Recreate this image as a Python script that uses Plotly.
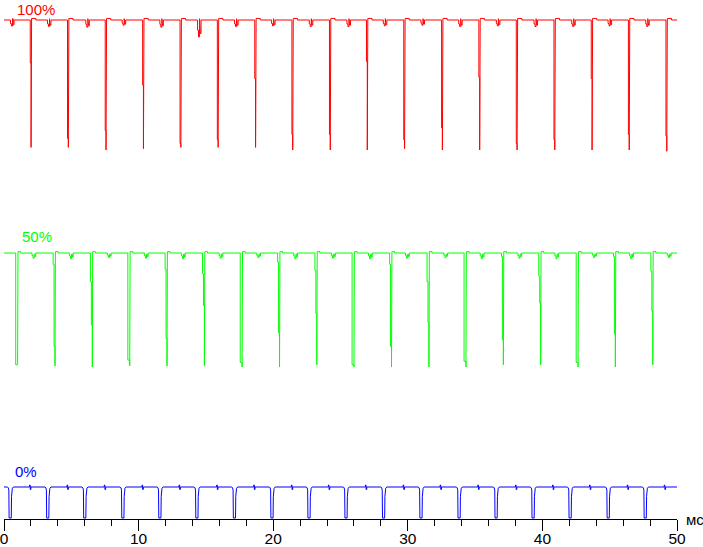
import plotly.graph_objects as go

# ---------------- data (time in ms) ----------------
# red trace (100%)
red_spike_t = [2.01, 4.78, 7.58, 10.36, 13.14, 15.91, 18.69, 21.45, 24.24,
               26.99, 29.76, 32.57, 35.34, 38.12, 40.92, 43.69, 46.45, 49.24]
red_spike_first = [0.33, 0.91, 0.85, 0.50, 0.95, 0.92, 0.45, 0.88, 0.88,
                   0.32, 0.92, 0.83, 0.44, 0.95, 0.92, 0.45, 0.88, 0.89]
red_spike_bottom = [0.98, 0.98, 1.00, 0.99, 0.98, 0.98, 0.98, 1.00, 1.00,
                    1.00, 0.99, 1.00, 1.00, 1.00, 1.00, 1.00, 1.00, 1.01]
red_glitch_t = [0.6, 3.35, 6.2, 8.9, 11.7, 14.5, 17.25, 20.0, 22.8,
                25.6, 28.3, 31.1, 33.9, 36.7, 39.5, 42.3, 45.0, 47.8]
red_glitch_d = [0.046, 0.05, 0.055, 0.04, 0.055, 0.13, 0.05, 0.045, 0.05,
                0.05, 0.045, 0.04, 0.05, 0.045, 0.05, 0.05, 0.045, 0.05]

# green trace (50%)
green_spike_t = [0.94, 3.72, 6.49, 9.27, 12.04, 14.82, 17.62, 20.40, 23.17,
                 25.93, 28.72, 31.50, 34.25, 37.03, 39.80, 42.58, 45.35, 48.13]
green_spike_first = [0.98, 0.10, 0.25, 0.94, 0.14, 0.18, 0.96, 0.08, 0.15,
                     0.98, 0.10, 0.25, 0.95, 0.03, 0.20, 0.96, 0.03, 0.16]
green_spike_second = [0.98, 0.82, 0.63, 0.94, 0.75, 0.46, 0.96, 0.70, 0.53,
                      0.98, 0.82, 0.61, 0.95, 0.76, 0.44, 0.96, 0.71, 0.51]
green_spike_bottom = [0.98, 0.99, 1.00, 0.99, 0.99, 0.99, 1.00, 1.00, 0.98,
                      1.00, 1.00, 1.00, 1.00, 0.98, 0.98, 1.00, 1.00, 0.98]
green_glitch_t = [2.2, 4.98, 7.8, 10.55, 13.3, 16.1, 18.9, 21.65, 24.45,
                  27.2, 29.95, 32.8, 35.5, 38.3, 41.05, 43.85, 46.6, 49.4]
green_glitch_d = [0.045, 0.05, 0.04, 0.045, 0.05, 0.045, 0.04, 0.05, 0.045,
                  0.05, 0.045, 0.04, 0.05, 0.045, 0.05, 0.04, 0.05, 0.04]

# blue trace (0%)
blue_dip_t = [0.48, 3.27, 6.02, 8.85, 11.6, 14.35, 17.14, 19.93, 22.68,
              25.43, 28.22, 31.0, 33.83, 36.58, 39.33, 42.08, 44.91, 47.66]
blue_blip_t = [1.9, 4.68, 7.45, 10.25, 13.0, 15.8, 18.55, 21.35, 24.1,
               26.85, 29.65, 32.4, 35.2, 38.0, 40.75, 43.5, 46.3, 49.05]

labels = ["100%", "50%", "0%"]
x_start, x_end = 0.0, 50.0
x_ticks = [0, 10, 20, 30, 40, 50]
x_unit = "мс"

# ---------------- display layout (vertical placement of each trace) -------
RED_BASE, RED_SWING = 499, 130
GREEN_BASE, GREEN_SWING = 266, 114
BLUE_BASE, BLUE_SWING = 32, 31


def red_spike(p1, b):
    return [(-0.06, 0), (-0.06, p1), (0, p1), (0, b), (0.04, -0.012),
            (0.35, -0.012), (0.35, 0)]


def red_glitch(d):
    return [(-0.12, 0), (-0.12, d * 0.6), (-0.05, d * 0.6), (-0.05, d),
            (0.03, d), (0.03, -0.01), (0.08, -0.01), (0.08, d * 0.8),
            (0.14, d * 0.8), (0.14, 0)]


def green_spike(p1, p2, b):
    return [(-0.07, 0), (-0.07, p1), (0, p1), (0, p2), (0.07, p2), (0.07, b),
            (0.1, -0.012), (0.3, -0.012), (0.3, 0)]


def green_glitch(d):
    return [(-0.12, 0), (-0.12, d * 0.5), (-0.04, d * 0.5), (-0.04, d),
            (0.04, d), (0.04, 0.01), (0.1, 0.01), (0.1, d * 0.7),
            (0.16, d * 0.7), (0.16, 0)]


def blue_dip():
    return [(-0.22, 0), (-0.16, 0.03), (-0.12, 0.1), (-0.1, 1.0), (0.06, 1.0),
            (0.08, 0.3), (0.1, 0.12), (0.14, 0.04), (0.22, 0)]


def blue_blip():
    return [(0, 0), (0, -0.06), (0.05, -0.06), (0.05, 0.08), (0.1, 0.08), (0.1, 0)]


def build(events, base, swing):
    events = sorted(events, key=lambda e: e[0])
    xs, ys = [x_start], [base]
    for t, shape in events:
        for dx, f in shape:
            x = t + dx
            if x < x_start or x > x_end:
                continue
            xs.append(x)
            ys.append(base - f * swing)
    xs.append(x_end)
    ys.append(base)
    return xs, ys


red_events = [(t, red_spike(p, b)) for t, p, b in zip(red_spike_t, red_spike_first, red_spike_bottom)]
red_events += [(t, red_glitch(d)) for t, d in zip(red_glitch_t, red_glitch_d)]
green_events = [(t, green_spike(p1, p2, b)) for t, p1, p2, b in
                zip(green_spike_t, green_spike_first, green_spike_second, green_spike_bottom)]
green_events += [(t, green_glitch(d)) for t, d in zip(green_glitch_t, green_glitch_d)]
blue_events = [(t, blue_dip()) for t in blue_dip_t] + [(t, blue_blip()) for t in blue_blip_t]

rx, ry = build(red_events, RED_BASE, RED_SWING)
gx, gy = build(green_events, GREEN_BASE, GREEN_SWING)
bx, by = build(blue_events, BLUE_BASE, BLUE_SWING)

fig = go.Figure()
fig.add_trace(go.Scatter(x=rx, y=ry, mode="lines", line=dict(color="#FF0000", width=1)))
fig.add_trace(go.Scatter(x=gx, y=gy, mode="lines", line=dict(color="#00FF00", width=1)))
fig.add_trace(go.Scatter(x=bx, y=by, mode="lines", line=dict(color="#0000FF", width=1)))

font_family = "Liberation Sans, Arial, sans-serif"
ann = [
    dict(x=0.047, y=519, text=labels[0], color="#FF0000", anchor="top"),
    dict(x=0.049, y=519 - 236, text=labels[1], color="#00FF00", anchor="middle"),
    dict(x=0.0326, y=519 - 471, text=labels[2], color="#0000FF", anchor="middle"),
]
for a in ann:
    fig.add_annotation(x=a["x"], y=a["y"], xref="paper", yref="y", text=a["text"],
                       showarrow=False, font=dict(family=font_family, size=15, color=a["color"]),
                       xanchor="center", yanchor=a["anchor"], borderpad=0)
fig.add_annotation(x=1.0, y=0, xref="paper", yref="paper", text=x_unit, showarrow=False,
                   xanchor="left", yanchor="middle", xshift=7,
                   font=dict(family=font_family, size=15, color="black"))

fig.update_layout(
    width=703, height=547,
    margin=dict(l=4, r=26, t=0, b=28),
    paper_bgcolor="white", plot_bgcolor="white",
    showlegend=False,
    font=dict(family=font_family, size=15.5, color="black"),
    xaxis=dict(range=[x_start, x_end], tickvals=x_ticks, ticks="outside", ticklen=11,
               tickwidth=1, tickcolor="black", showline=True, linecolor="black", linewidth=1,
               showgrid=False, zeroline=False, automargin=False,
               ticklabeloverflow="allow", ticklabelstandoff=-6,
               minor=dict(dtick=2, ticks="outside", ticklen=6, tickcolor="black", tickwidth=1,
                          showgrid=False),
               tickfont=dict(family=font_family, size=15.5, color="black")),
    yaxis=dict(range=[0, 519], visible=False, showgrid=False, zeroline=False, automargin=False),
)

fig.write_html("out.html", config={"displayModeBar": False},
               post_script="document.body.style.margin='0';document.body.style.overflow='hidden';")
